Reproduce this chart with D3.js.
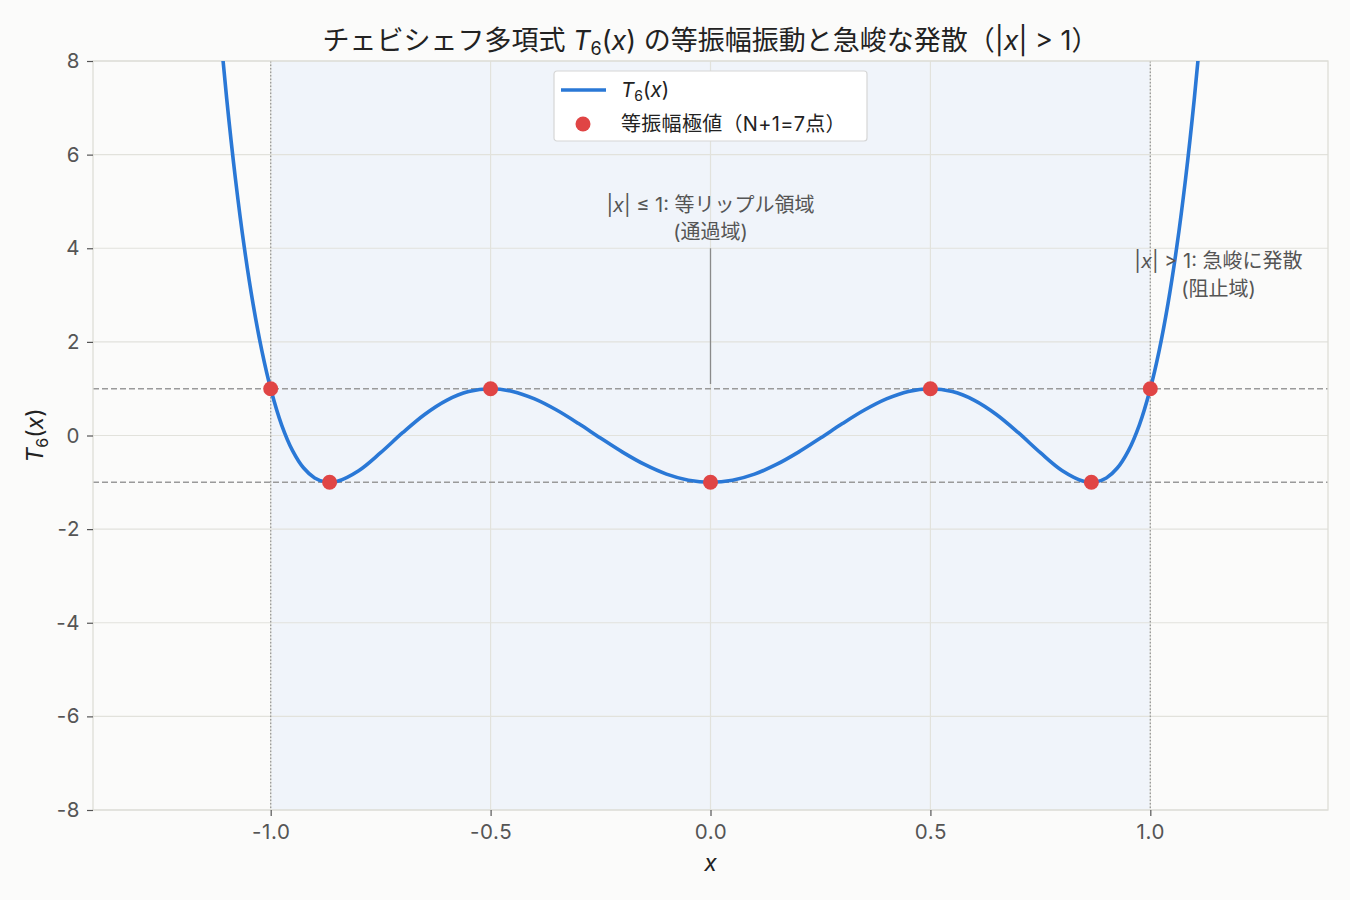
<!DOCTYPE html>
<html>
<head>
<meta charset="utf-8">
<script src="https://cdn.jsdelivr.net/npm/d3@7"></script>
<style>
    body { margin: 0; background: #fbfbfa; }
    text { font-family: Inter, "Noto Sans CJK JP", sans-serif; }
</style>
</head>
<body>
<div id="chart"></div>
<script>
// curve samples of T6(x)
const curveX = [
    -1.12, -1.10, -1.08, -1.06, -1.04, -1.02, -1.0, -0.975, -0.95, -0.925, -0.9, -0.875,
    -0.85, -0.8, -0.75, -0.7, -0.65, -0.6, -0.55, -0.5, -0.45, -0.4, -0.35, -0.3,
    -0.25, -0.2, -0.15, -0.1, -0.05, 0.0, 0.05, 0.1, 0.15, 0.2, 0.25, 0.3, 0.35,
    0.4, 0.45, 0.5, 0.55, 0.6, 0.65, 0.7, 0.75, 0.8, 0.85, 0.875, 0.9, 0.925, 0.95,
    0.975, 1.0, 1.02, 1.04, 1.06, 1.08, 1.10, 1.12
];
const curveY = [
    9.213, 7.193, 5.472, 4.019, 2.806, 1.808, 1.0, 0.224, -0.328, -0.695, -0.907, -0.994,
    -0.983, -0.752, -0.367, 0.060, 0.450, 0.752, 0.938, 1.0, 0.942, 0.782, 0.544, 0.255,
    -0.055, -0.355, -0.619, -0.825, -0.955, -1.0, -0.955, -0.825, -0.619, -0.355, -0.055, 0.255, 0.544,
    0.782, 0.942, 1.0, 0.938, 0.752, 0.450, 0.060, -0.367, -0.752, -0.983, -0.994, -0.907, -0.695, -0.328,
    0.224, 1.0, 1.808, 2.806, 4.019, 5.472, 7.193, 9.213
];

// equiripple extrema (N+1 = 7 points)
const extremaX = [-1.0, -0.866, -0.5, 0.0, 0.5, 0.866, 1.0];
const extremaY = [1, -1, 1, -1, 1, -1, 1];

const xTicks = [-1.0, -0.5, 0.0, 0.5, 1.0];
const yTicks = [-8, -6, -4, -2, 0, 2, 4, 6, 8];
const xDomain = [-1.404, 1.404];
const yDomain = [-8, 8];

const width = 1350, height = 900;
const margin = { top: 61, right: 22, bottom: 90, left: 93 };
const chartWidth = width - margin.left - margin.right;
const chartHeight = height - margin.top - margin.bottom;

const svg = d3.select("#chart").append("svg")
    .attr("width", width)
    .attr("height", height);

svg.append("rect")
    .attr("width", width).attr("height", height)
    .attr("fill", "#fbfbfa");

const x = d3.scaleLinear().domain(xDomain).range([0, chartWidth]);
const y = d3.scaleLinear().domain(yDomain).range([chartHeight, 0]);

const g = svg.append("g")
    .attr("transform", `translate(${margin.left}, ${margin.top})`);

svg.append("defs").append("clipPath").attr("id", "plotClip")
    .append("rect").attr("width", chartWidth).attr("height", chartHeight);

// pass band shading
g.append("rect")
    .attr("x", x(-1)).attr("y", 0)
    .attr("width", x(1) - x(-1)).attr("height", chartHeight)
    .attr("fill", "#f0f4fa");

// grid
g.append("g").selectAll("line").data(xTicks).join("line")
    .attr("x1", d => x(d)).attr("x2", d => x(d))
    .attr("y1", 0).attr("y2", chartHeight)
    .attr("stroke", "#e2e2dc").attr("stroke-width", 1.2);
g.append("g").selectAll("line").data(yTicks).join("line")
    .attr("x1", 0).attr("x2", chartWidth)
    .attr("y1", d => y(d)).attr("y2", d => y(d))
    .attr("stroke", "#e2e2dc").attr("stroke-width", 1.2);

// |x| = 1 boundaries
g.append("g").selectAll("line").data([-1, 1]).join("line")
    .attr("x1", d => x(d)).attr("x2", d => x(d))
    .attr("y1", 0).attr("y2", chartHeight)
    .attr("stroke", "#9a9a9a").attr("stroke-width", 1.3)
    .attr("stroke-dasharray", "1.5,2");

// ±1 levels
g.append("g").selectAll("line").data([-1, 1]).join("line")
    .attr("x1", 0).attr("x2", chartWidth)
    .attr("y1", d => y(d)).attr("y2", d => y(d))
    .attr("stroke", "#9a9a9a").attr("stroke-width", 1.4)
    .attr("stroke-dasharray", "6,3");

// spines
g.append("rect")
    .attr("width", chartWidth).attr("height", chartHeight)
    .attr("fill", "none").attr("stroke", "#deded8").attr("stroke-width", 1.3);

// axes
const xAxis = g.append("g")
    .attr("transform", `translate(0, ${chartHeight})`)
    .call(d3.axisBottom(x).tickValues(xTicks).tickSize(6).tickPadding(8));
const yAxis = g.append("g")
    .call(d3.axisLeft(y).tickValues(yTicks).tickSize(6).tickPadding(7));
[xAxis, yAxis].forEach(ax => {
    ax.select(".domain").remove();
    ax.selectAll(".tick line").attr("stroke", "#555").attr("stroke-width", 1.2);
    ax.selectAll(".tick text")
        .attr("fill", "#555")
        .style("font-size", "20.5px")
        .style("letter-spacing", "0.6px");
});
xAxis.selectAll(".tick text").text(d => d.toFixed(1));
yAxis.selectAll(".tick text").text(d => String(d));

// curve
const points = curveX.map((d, i) => [d, curveY[i]]);
const line = d3.line()
    .x(d => x(d[0]))
    .y(d => y(d[1]))
    .curve(d3.curveCatmullRom.alpha(0.5));
g.append("path")
    .datum(points)
    .attr("clip-path", "url(#plotClip)")
    .attr("d", line)
    .attr("fill", "none")
    .attr("stroke", "#2a78d6")
    .attr("stroke-width", 3.6);

// extrema
g.append("g").selectAll("circle").data(extremaX).join("circle")
    .attr("cx", d => x(d))
    .attr("cy", (d, i) => y(extremaY[i]))
    .attr("r", 7.5)
    .attr("fill", "#e04545");

// annotations
g.append("line")
    .attr("x1", x(0)).attr("x2", x(0))
    .attr("y1", y(4.0)).attr("y2", y(1.1))
    .attr("stroke", "#8a8a8a").attr("stroke-width", 1.3);

const annoLeft = g.append("text")
    .attr("x", x(0)).attr("y", y(4.77))
    .attr("text-anchor", "middle")
    .attr("fill", "#555").style("font-size", "20px");
annoLeft.append("tspan").text("|");
annoLeft.append("tspan").attr("font-style", "italic").text("x");
annoLeft.append("tspan").text("| ≤ 1: 等リップル領域");
g.append("text")
    .attr("x", x(0)).attr("y", y(4.19))
    .attr("text-anchor", "middle")
    .attr("fill", "#555").style("font-size", "20px")
    .text("(通過域)");

const annoRight = g.append("text")
    .attr("x", x(1.155)).attr("y", y(3.57))
    .attr("text-anchor", "middle")
    .attr("fill", "#555").style("font-size", "20px");
annoRight.append("tspan").text("|");
annoRight.append("tspan").attr("font-style", "italic").text("x");
annoRight.append("tspan").text("| > 1: 急峻に発散");
g.append("text")
    .attr("x", x(1.155)).attr("y", y(2.97))
    .attr("text-anchor", "middle")
    .attr("fill", "#555").style("font-size", "20px")
    .text("(阻止域)");

// legend
const legend = svg.append("g").attr("transform", "translate(554, 71)");
legend.append("rect")
    .attr("width", 313).attr("height", 70).attr("rx", 3)
    .attr("fill", "#ffffff").attr("stroke", "#d6d6d6").attr("stroke-width", 1.2);
legend.append("line")
    .attr("x1", 7).attr("x2", 52).attr("y1", 19).attr("y2", 19)
    .attr("stroke", "#2a78d6").attr("stroke-width", 3.6);
const legT = legend.append("text")
    .attr("x", 67).attr("y", 26)
    .attr("fill", "#222").style("font-size", "20.5px");
legT.append("tspan").attr("font-style", "italic").text("T");
legT.append("tspan").attr("font-size", "14px").attr("dy", 4).text("6");
legT.append("tspan").attr("dy", -4).text("(");
legT.append("tspan").attr("font-style", "italic").text("x");
legT.append("tspan").text(")");
legend.append("circle")
    .attr("cx", 29).attr("cy", 53).attr("r", 7.5)
    .attr("fill", "#e04545");
legend.append("text")
    .attr("x", 67).attr("y", 60)
    .attr("fill", "#222").style("font-size", "20px")
    .style("letter-spacing", "0.3px")
    .text("等振幅極値（N+1=7点）");

// title
const title = svg.append("text")
    .attr("x", margin.left + chartWidth / 2).attr("y", 50)
    .attr("text-anchor", "middle")
    .attr("fill", "#222").style("font-size", "27px");
title.append("tspan").text("チェビシェフ多項式 ");
title.append("tspan").attr("font-style", "italic").text("T");
title.append("tspan").attr("font-size", "18px").attr("dy", 5).text("6");
title.append("tspan").attr("dy", -5).text("(");
title.append("tspan").attr("font-style", "italic").text("x");
title.append("tspan").text(") の等振幅振動と急峻な発散（|");
title.append("tspan").attr("font-style", "italic").text("x");
title.append("tspan").text("| > 1）");

// axis labels
svg.append("text")
    .attr("x", margin.left + chartWidth / 2).attr("y", 871)
    .attr("text-anchor", "middle")
    .attr("fill", "#222").style("font-size", "23px")
    .attr("font-style", "italic")
    .text("x");

const yLabel = svg.append("text")
    .attr("transform", `translate(43, ${margin.top + chartHeight / 2}) rotate(-90)`)
    .attr("text-anchor", "middle")
    .attr("fill", "#222").style("font-size", "23px");
yLabel.append("tspan").attr("font-style", "italic").text("T");
yLabel.append("tspan").attr("font-size", "16px").attr("dy", 5).text("6");
yLabel.append("tspan").attr("dy", -5).text("(");
yLabel.append("tspan").attr("font-style", "italic").text("x");
yLabel.append("tspan").text(")");
</script>
</body>
</html>
